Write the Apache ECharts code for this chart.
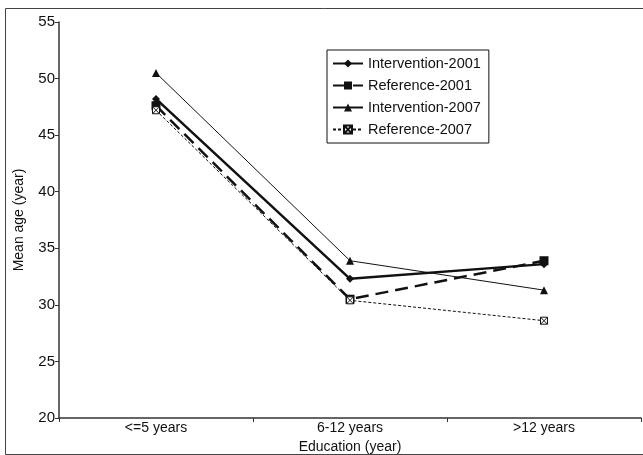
<!DOCTYPE html>
<html>
<head>
<meta charset="utf-8">
<script src="https://cdn.jsdelivr.net/npm/echarts@6/dist/echarts.min.js"></script>
<style>html,body{margin:0;padding:0;background:#fff}#c{width:643px;height:455px}</style>
</head>
<body>
<div id="c"></div>
<script>
const categories = ['<=5 years', '6-12 years', '>12 years'];
const intervention2001 = [48.2, 32.3, 33.6];
const reference2001 = [47.6, 30.5, 33.9];
const intervention2007 = [50.5, 33.9, 31.3];
const reference2007 = [47.2, 30.4, 28.6];
const yTicks = [20, 25, 30, 35, 40, 45, 50, 55];

const chart = echarts.init(document.getElementById('c'));
const font = 'Liberation Sans, Arial, sans-serif';
chart.setOption({
  animation: false,
  textStyle: { fontFamily: font },
  graphic: [{
    type: 'rect', shape: { x: 5.5, y: 8.5, width: 640, height: 446 },
    style: { fill: 'none', stroke: '#444', lineWidth: 1 }, silent: true
  }],
  grid: { left: 59, right: 2, top: 22, bottom: 37, outerBoundsMode: 'none', containLabel: false },
  legend: {
    orient: 'vertical', left: 327, top: 50,
    borderColor: '#111', borderWidth: 1, padding: [6, 8, 6, 5],
    itemWidth: 30, itemHeight: 10, itemGap: 7,
    textStyle: { fontFamily: font, fontSize: 14.5, color: '#111' },
    data: ['Intervention-2001', 'Reference-2001', 'Intervention-2007', 'Reference-2007']
  },
  xAxis: {
    type: 'category', data: categories, boundaryGap: true,
    name: 'Education (year)', nameLocation: 'middle', nameGap: 16,
    nameTextStyle: { fontFamily: font, fontSize: 14, color: '#111' },
    axisLine: { lineStyle: { color: '#333', width: 1.5 } },
    axisTick: { show: true, length: 4, inside: false, alignWithLabel: false, lineStyle: { color: '#333' } },
    axisLabel: { fontFamily: font, fontSize: 14, color: '#111', margin: 3 }
  },
  yAxis: {
    type: 'value', min: yTicks[0], max: yTicks[yTicks.length - 1], interval: 5,
    name: 'Mean age (year)', nameLocation: 'middle', nameGap: 33,
    nameTextStyle: { fontFamily: font, fontSize: 14, color: '#111' },
    axisLine: { show: true, lineStyle: { color: '#333', width: 1.5 } },
    axisTick: { show: true, length: 4, lineStyle: { color: '#333' } },
    axisLabel: { fontFamily: font, fontSize: 15, color: '#111', margin: 4 },
    splitLine: { show: false }
  },
  series: [
    {
      name: 'Intervention-2001', type: 'line', data: intervention2001,
      symbol: 'diamond', symbolSize: 8,
      lineStyle: { color: '#111', width: 2.5 },
      itemStyle: { color: '#111' }
    },
    {
      name: 'Reference-2001', type: 'line', data: reference2001,
      symbol: 'rect', symbolSize: 9,
      lineStyle: { color: '#111', width: 2.5, type: [13, 7] },
      itemStyle: { color: '#111' }
    },
    {
      name: 'Intervention-2007', type: 'line', data: intervention2007,
      symbol: 'triangle', symbolSize: 8,
      lineStyle: { color: '#111', width: 1 },
      itemStyle: { color: '#111' }
    },
    {
      name: 'Reference-2007', type: 'line', data: reference2007,
      symbol: 'path://M0 0H10V10H0Z M0 0L10 10 M10 0L0 10', symbolSize: 7,
      lineStyle: { color: '#111', width: 1, type: [3, 2] },
      itemStyle: { color: '#fff', borderColor: '#111', borderWidth: 1 }
    }
  ]
});
</script>
</body>
</html>
